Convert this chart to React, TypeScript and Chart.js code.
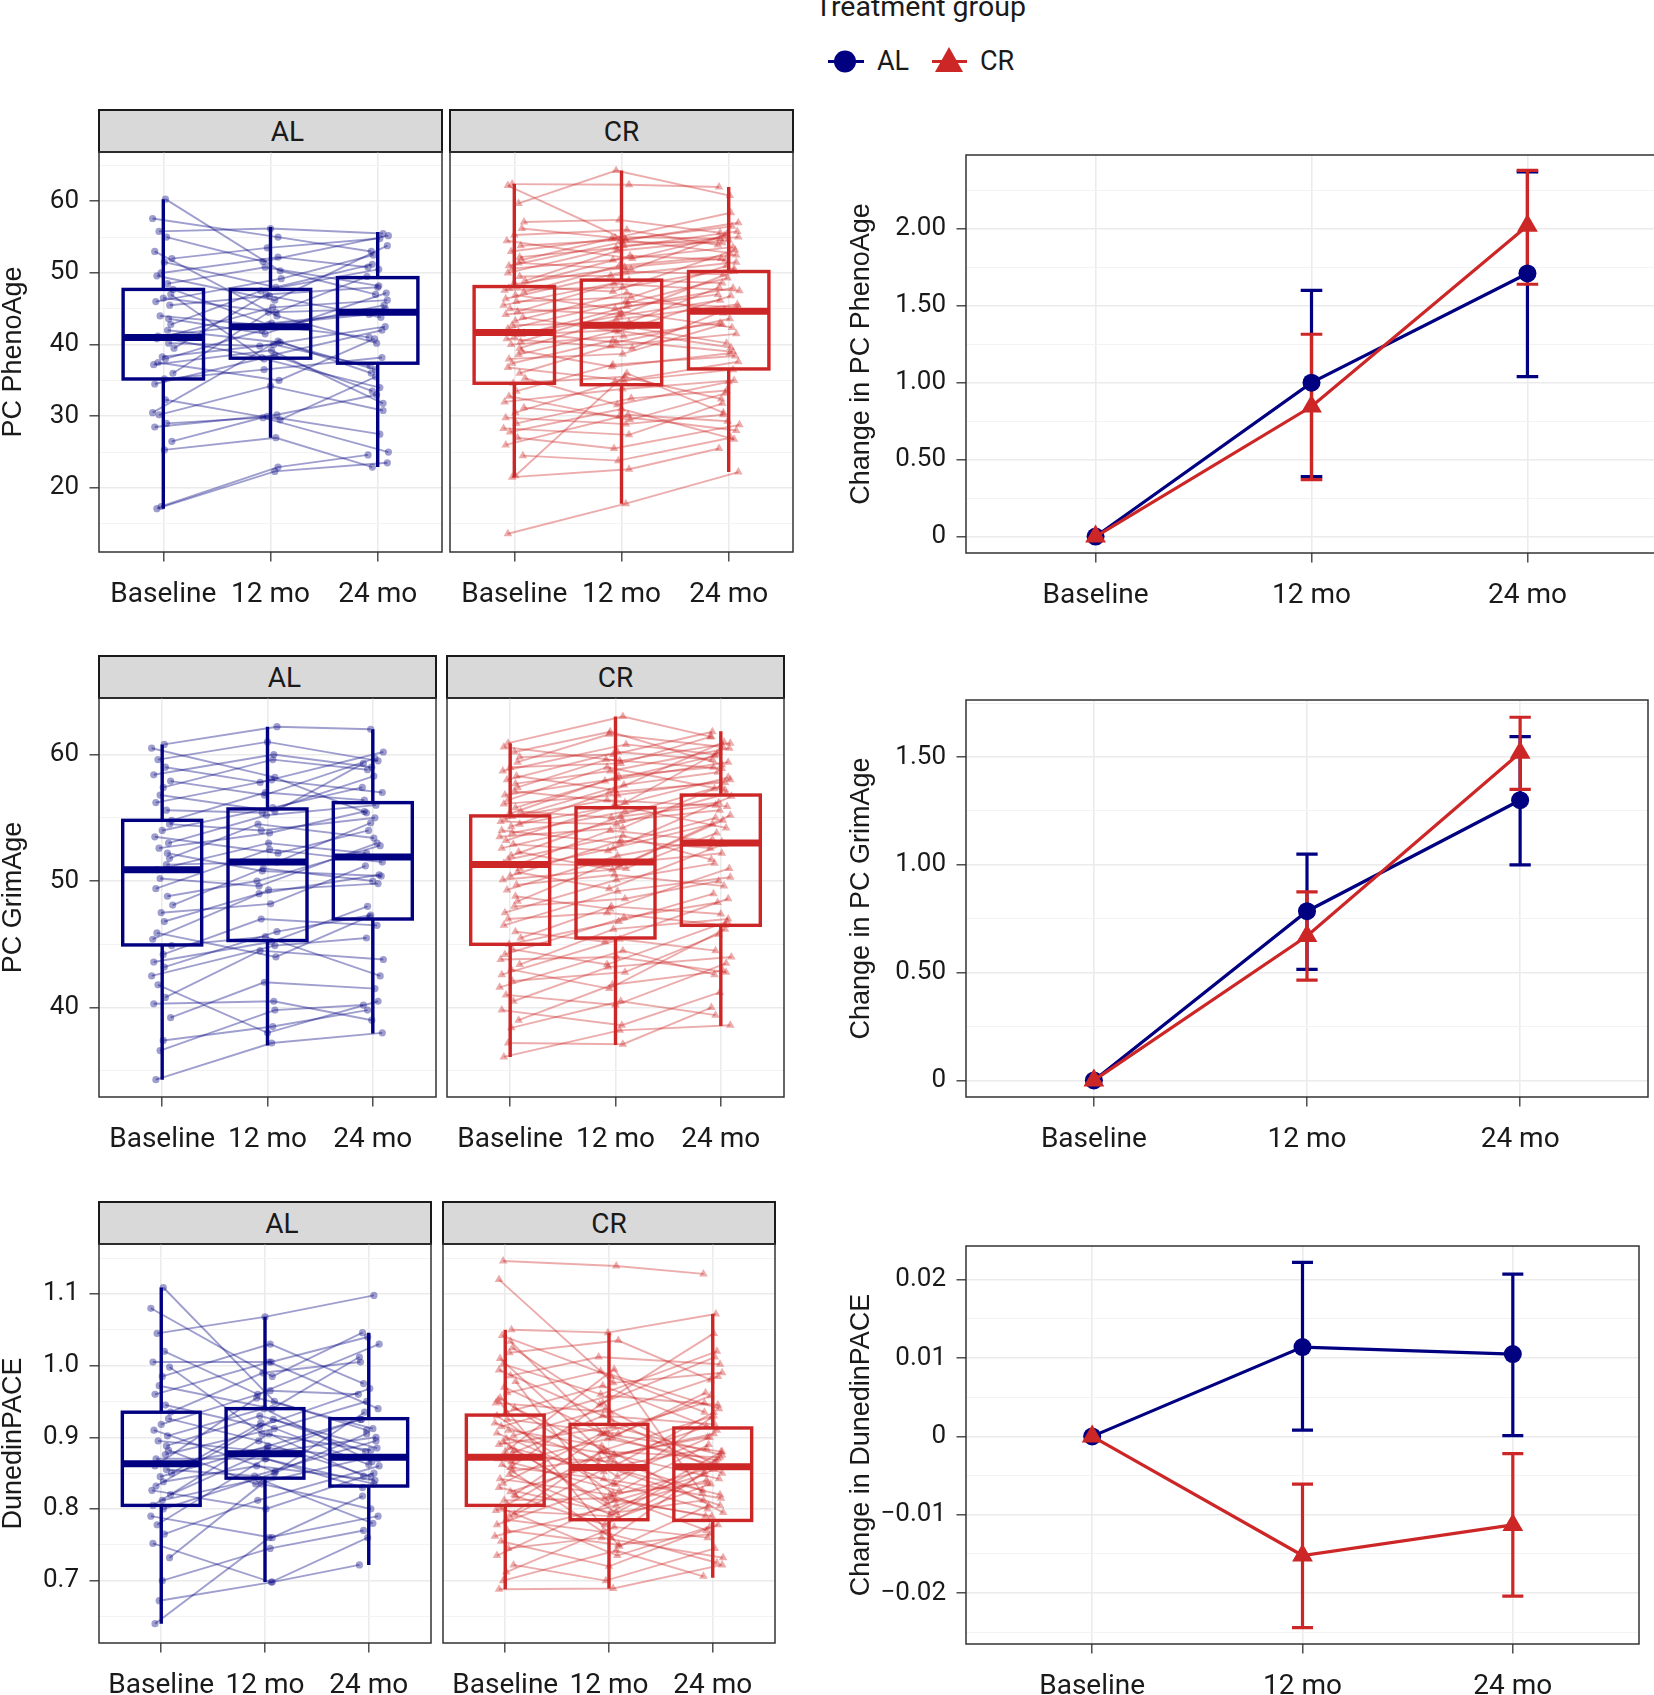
import { useEffect, useRef } from 'react';
import { Chart, registerables } from 'chart.js';

Chart.register(...registerables);

// ---------------------------------------------------------------------------
// Data
// ---------------------------------------------------------------------------

const TIMEPOINTS = ['Baseline', '12 mo', '24 mo'];

// Individual trajectories: [baseline, 12 mo, 24 mo]
const PHENO_AL = [
  [17.1, 22.3, 23.5], [17.4, 22.9, 24.6], [25.3, 27.0, 22.9], [26.5, 30.0, 27.5], [28.5, 30.2, 33.0],
  [29.0, 29.8, 25.0], [30.2, 34.2, 30.8], [30.5, 40.5, 36.0], [32.3, 29.5, 35.5], [34.5, 38.5, 33.5],
  [35.2, 36.5, 38.2], [36.0, 44.5, 45.0], [37.2, 39.2, 31.8], [37.5, 35.0, 40.8], [38.0, 42.0, 45.5],
  [38.3, 40.0, 37.0], [39.5, 47.0, 48.0], [40.2, 39.8, 42.5], [40.8, 45.2, 46.2], [41.0, 38.2, 42.0],
  [41.2, 43.0, 44.5], [42.0, 40.3, 36.5], [42.8, 47.5, 50.5], [43.6, 41.5, 47.2], [44.0, 42.6, 41.0],
  [45.5, 46.8, 43.8], [46.0, 49.2, 52.5], [46.5, 44.5, 49.5], [47.0, 38.0, 34.0], [47.7, 42.8, 44.2],
  [48.5, 50.8, 48.2], [49.6, 46.2, 53.8], [50.0, 52.2, 50.8], [51.5, 48.0, 51.2], [52.0, 53.5, 54.8],
  [53.0, 44.0, 40.2], [55.0, 51.6, 55.2], [55.8, 56.2, 55.5], [57.6, 55.0, 53.0], [60.3, 50.3, 47.0],
];

const PHENO_CR = [
  [13.6, 17.8, 22.2], [21.5, 22.6, 25.5], [21.7, 36.0, 30.5], [24.5, 23.8, 27.0], [26.0, 30.2, 29.3],
  [27.0, 25.5, 28.8], [27.8, 31.0, 26.8], [28.3, 27.4, 31.8], [29.0, 32.5, 33.6], [29.8, 28.9, 30.2],
  [30.5, 34.8, 36.5], [31.2, 30.0, 28.0], [32.0, 33.8, 35.0], [32.8, 29.5, 33.2], [33.5, 37.2, 38.4],
  [34.6, 35.5, 32.4], [35.3, 31.6, 34.8], [36.0, 39.8, 41.5], [36.8, 35.0, 37.6], [37.4, 40.6, 39.0],
  [38.0, 38.7, 42.8], [38.6, 42.4, 40.2], [39.1, 36.9, 38.8], [39.5, 43.5, 45.6], [40.0, 41.2, 43.0],
  [40.4, 44.6, 42.4], [40.8, 39.5, 44.8], [41.1, 45.3, 47.0], [41.4, 42.0, 39.6], [41.6, 44.0, 46.2],
  [41.8, 40.3, 43.6], [42.2, 46.0, 45.2], [42.7, 43.1, 48.0], [43.3, 47.2, 44.4], [43.8, 41.8, 46.8],
  [44.2, 45.8, 49.3], [44.6, 48.5, 47.5], [45.0, 44.2, 50.2], [45.5, 49.0, 48.6], [46.0, 46.6, 51.0],
  [46.4, 50.2, 49.8], [46.9, 45.0, 47.9], [47.3, 51.0, 52.5], [47.6, 48.0, 50.6], [47.9, 52.4, 51.8],
  [48.1, 47.4, 53.2], [48.4, 50.8, 52.0], [48.9, 53.1, 54.6], [49.5, 49.6, 51.5], [50.0, 53.8, 55.0],
  [50.6, 51.8, 53.6], [51.0, 54.3, 54.2], [51.4, 50.5, 55.4], [51.8, 54.8, 52.8], [52.2, 53.5, 55.8],
  [53.0, 55.0, 54.8], [53.8, 54.6, 56.5], [54.5, 52.0, 55.2], [55.3, 56.0, 53.9], [56.2, 54.9, 58.4],
  [57.1, 57.4, 55.6], [59.7, 64.3, 60.8], [62.2, 54.6, 57.0], [62.4, 62.3, 62.0],
];

const GRIM_AL = [
  [34.3, 37.2, 38.0], [36.6, 39.8, 40.2], [37.4, 38.5, 39.8], [39.2, 42.0, 41.5], [40.3, 40.5, 39.0],
  [40.8, 44.5, 43.8], [41.8, 38.0, 40.5], [42.5, 44.9, 45.5], [43.2, 46.0, 47.3], [43.6, 45.2, 48.0],
  [44.2, 47.0, 46.5], [44.9, 45.6, 42.5], [45.4, 49.3, 49.8], [45.9, 44.0, 47.2], [46.8, 49.0, 50.5],
  [47.5, 48.2, 51.2], [48.1, 51.0, 50.0], [48.8, 50.0, 52.8], [49.4, 52.5, 51.5], [50.2, 49.6, 53.0],
  [50.9, 53.0, 52.2], [51.3, 51.5, 54.6], [51.8, 54.5, 53.4], [52.2, 50.8, 50.4], [52.6, 53.8, 55.5],
  [53.0, 55.2, 56.0], [53.5, 52.2, 54.0], [54.0, 55.8, 57.4], [54.5, 54.0, 55.0], [54.8, 57.0, 56.4],
  [55.6, 55.4, 58.3], [56.2, 58.0, 57.0], [56.8, 55.5, 59.3], [57.4, 59.6, 58.8], [57.9, 56.8, 59.7],
  [58.4, 60.0, 59.0], [59.0, 57.8, 60.2], [59.6, 61.0, 59.5], [60.5, 58.2, 55.4], [60.8, 62.2, 62.0],
];

const GRIM_CR = [
  [36.1, 38.2, 38.6], [37.2, 37.1, 40.0], [38.4, 40.5, 39.4], [39.0, 41.8, 42.9], [39.8, 38.6, 41.2],
  [40.5, 43.2, 44.0], [41.0, 40.2, 43.5], [41.6, 44.5, 42.6], [42.1, 42.8, 45.8], [42.6, 45.4, 44.5],
  [43.0, 41.5, 46.2], [43.4, 46.2, 47.0], [43.8, 44.0, 42.8], [44.2, 47.1, 48.3], [44.6, 43.4, 46.8],
  [45.0, 46.8, 49.0], [45.5, 48.0, 47.4], [46.0, 45.2, 48.6], [46.5, 49.2, 50.3], [47.0, 47.5, 46.5],
  [47.5, 50.1, 51.4], [48.0, 48.6, 50.0], [48.4, 51.3, 52.2], [48.8, 47.8, 51.0], [49.3, 52.0, 53.3],
  [49.7, 50.5, 49.6], [50.1, 51.0, 53.8], [50.4, 53.2, 52.6], [50.7, 49.4, 52.9], [51.0, 52.6, 54.5],
  [51.2, 54.0, 53.1], [51.4, 51.2, 55.2], [51.7, 53.6, 51.7], [52.0, 55.1, 56.0], [52.3, 50.9, 54.8],
  [52.6, 54.8, 55.6], [52.9, 52.4, 56.7], [53.2, 56.0, 54.2], [53.5, 54.2, 57.3], [53.8, 55.5, 56.2],
  [54.0, 53.0, 55.0], [54.3, 57.0, 57.8], [54.5, 55.9, 58.2], [54.7, 54.5, 56.9], [54.9, 57.6, 58.6],
  [55.1, 56.4, 55.9], [55.3, 58.3, 59.0], [55.5, 55.0, 57.5], [55.8, 57.9, 59.4], [56.1, 56.8, 58.0],
  [56.4, 59.0, 57.2], [56.8, 58.1, 59.9], [57.1, 56.2, 60.2], [57.4, 59.6, 58.9], [57.7, 58.7, 60.5],
  [58.0, 60.2, 59.6], [58.3, 57.2, 61.0], [58.7, 60.8, 60.0], [59.0, 59.3, 61.4], [59.4, 61.6, 60.6],
  [59.8, 60.0, 61.8], [60.2, 61.8, 59.2], [60.6, 59.5, 60.9], [60.9, 63.0, 61.4],
];

const PACE_AL = [
  [0.640, 0.760, 0.790], [0.672, 0.698, 0.722], [0.700, 0.745, 0.770], [0.732, 0.835, 0.800], [0.752, 0.698, 0.760],
  [0.765, 0.812, 0.860], [0.778, 0.870, 0.835], [0.790, 0.760, 0.818], [0.800, 0.850, 0.905], [0.805, 0.905, 0.846],
  [0.812, 0.842, 0.780], [0.820, 0.878, 0.900], [0.826, 0.800, 0.850], [0.832, 0.925, 0.880], [0.838, 0.860, 0.840],
  [0.845, 0.888, 0.925], [0.850, 0.920, 0.862], [0.855, 0.846, 0.895], [0.860, 0.885, 0.870], [0.864, 0.955, 0.912],
  [0.870, 0.870, 0.830], [0.876, 0.912, 0.950], [0.882, 0.835, 0.872], [0.888, 0.930, 0.885], [0.895, 0.880, 0.925],
  [0.902, 0.940, 0.866], [0.910, 0.852, 0.935], [0.918, 0.965, 0.960], [0.926, 0.895, 0.845], [0.935, 0.990, 1.005],
  [0.945, 0.915, 0.968], [0.960, 1.005, 0.940], [0.972, 0.940, 1.012], [0.985, 1.030, 0.975], [0.998, 0.905, 0.882],
  [1.005, 1.005, 1.040], [1.020, 0.960, 1.030], [1.045, 1.068, 1.098], [1.080, 0.985, 1.046], [1.109, 0.950, 0.910],
];

const PACE_CR = [
  [0.688, 0.689, 0.722], [0.700, 0.742, 0.706], [0.712, 0.775, 0.760], [0.722, 0.700, 0.745], [0.735, 0.812, 0.790],
  [0.745, 0.760, 0.732], [0.755, 0.720, 0.778], [0.762, 0.805, 0.840], [0.770, 0.750, 0.765], [0.778, 0.836, 0.800],
  [0.785, 0.768, 0.725], [0.792, 0.858, 0.820], [0.798, 0.790, 0.870], [0.802, 0.735, 0.775], [0.806, 0.880, 0.842],
  [0.812, 0.815, 0.790], [0.818, 0.778, 0.855], [0.824, 0.862, 0.805], [0.830, 0.795, 0.880], [0.836, 0.905, 0.860],
  [0.842, 0.820, 0.770], [0.848, 0.788, 0.835], [0.853, 0.870, 0.905], [0.858, 0.842, 0.815], [0.862, 0.760, 0.852],
  [0.866, 0.898, 0.868], [0.870, 0.825, 0.890], [0.874, 0.866, 0.826], [0.878, 0.930, 0.918], [0.882, 0.808, 0.848],
  [0.886, 0.852, 0.935], [0.890, 0.915, 0.875], [0.894, 0.795, 0.812], [0.898, 0.876, 0.900], [0.902, 0.940, 0.862],
  [0.906, 0.834, 0.928], [0.910, 0.888, 0.795], [0.915, 0.958, 0.945], [0.920, 0.860, 0.884], [0.925, 0.905, 0.958],
  [0.930, 0.822, 0.836], [0.935, 0.972, 0.910], [0.941, 0.880, 0.872], [0.948, 0.935, 0.985], [0.955, 0.845, 0.900],
  [0.962, 0.992, 0.940], [0.970, 0.900, 0.962], [0.978, 0.815, 0.858], [0.986, 1.012, 1.002], [0.994, 0.925, 0.850],
  [1.002, 0.960, 1.020], [1.010, 0.870, 0.915], [1.018, 1.035, 0.980], [1.025, 0.945, 1.045], [1.034, 0.905, 0.880],
  [1.042, 0.985, 0.935], [1.050, 1.046, 1.072], [0.952, 0.748, 0.805], [0.880, 0.995, 0.822], [0.860, 0.948, 1.012],
  [0.820, 0.908, 0.948], [0.790, 0.882, 0.930], [1.120, 0.976, 0.990], [1.146, 1.139, 1.128],
];

// Boxplot summaries per timepoint: [lower whisker, Q1, median, Q3, upper whisker]
const PHENO_AL_BOX = [[17.1, 35.2, 41.0, 47.7, 60.3], [27.0, 38.1, 42.5, 47.7, 56.4], [22.9, 37.4, 44.5, 49.35, 55.7]];
const PHENO_CR_BOX = [[21.5, 34.6, 41.7, 48.1, 62.4], [17.8, 34.4, 42.7, 49.0, 64.3], [22.2, 36.6, 44.65, 50.2, 62.0]];
const GRIM_AL_BOX = [[34.3, 44.95, 50.9, 54.8, 60.8], [37.0, 45.3, 51.5, 55.7, 62.2], [37.95, 47.0, 51.9, 56.2, 62.0]];
const GRIM_CR_BOX = [[36.1, 45.0, 51.3, 55.15, 60.9], [37.05, 45.5, 51.5, 55.8, 63.0], [38.55, 46.5, 53.0, 56.8, 61.85]];
const PACE_AL_BOX = [[0.640, 0.805, 0.863, 0.935, 1.109], [0.698, 0.843, 0.877, 0.940, 1.068], [0.722, 0.832, 0.872, 0.926, 1.046]];
const PACE_CR_BOX = [[0.688, 0.805, 0.872, 0.931, 1.050], [0.689, 0.785, 0.858, 0.918, 1.046], [0.704, 0.784, 0.859, 0.913, 1.072]];

// Mean change from baseline with confidence interval
const PHENO_AL_MEAN = [0, 1.0, 1.71];
const PHENO_AL_LO = [null, 0.39, 1.04];
const PHENO_AL_HI = [null, 1.6, 2.37];
const PHENO_CR_MEAN = [0, 0.845, 2.02];
const PHENO_CR_LO = [null, 0.37, 1.64];
const PHENO_CR_HI = [null, 1.315, 2.38];

const GRIM_AL_MEAN = [0, 0.785, 1.3];
const GRIM_AL_LO = [null, 0.515, 1.0];
const GRIM_AL_HI = [null, 1.05, 1.595];
const GRIM_CR_MEAN = [0, 0.67, 1.52];
const GRIM_CR_LO = [null, 0.465, 1.35];
const GRIM_CR_HI = [null, 0.875, 1.685];

const PACE_AL_MEAN = [0, 0.0114, 0.0105];
const PACE_AL_LO = [null, 0.0008, 0.0001];
const PACE_AL_HI = [null, 0.0222, 0.0207];
const PACE_CR_MEAN = [0, -0.0152, -0.0113];
const PACE_CR_LO = [null, -0.0244, -0.0204];
const PACE_CR_HI = [null, -0.0061, -0.0022];

// Axis ticks (major = labelled, minor = grid only)
const PHENO_TICKS = [20, 30, 40, 50, 60];
const PHENO_MINOR = [15, 25, 35, 45, 55, 65];
const GRIM_TICKS = [40, 50, 60];
const GRIM_MINOR = [35, 45, 55];
const PACE_TICKS = [0.7, 0.8, 0.9, 1.0, 1.1];
const PACE_MINOR = [0.65, 0.75, 0.85, 0.95, 1.05, 1.15];
const D_PHENO_TICKS = [0, 0.5, 1.0, 1.5, 2.0];
const D_PHENO_MINOR = [0.25, 0.75, 1.25, 1.75, 2.25];
const D_GRIM_TICKS = [0, 0.5, 1.0, 1.5];
const D_GRIM_MINOR = [0.25, 0.75, 1.25, 1.75];
const D_PACE_TICKS = [-0.02, -0.01, 0, 0.01, 0.02];
const D_PACE_MINOR = [-0.025, -0.015, -0.005, 0.005, 0.015];

// hand-picked horizontal jitter for individual points (category units)
const JITTER = [
  -0.06, 0.04, 0.09, -0.02, 0.07, -0.09, 0.01, 0.05, -0.05, 0.08, -0.03, 0.02, -0.08, 0.06, -0.01, 0.03,
  -0.07, 0.1, -0.04, 0.0, 0.05, -0.1, 0.07, -0.06, 0.02, 0.09, -0.02, -0.08, 0.04, -0.05, 0.01,
];

// ---------------------------------------------------------------------------
// Styling
// ---------------------------------------------------------------------------

const NAVY = '#000080';
const RED = '#CD2626';
const NAVY_FADE = 'rgba(0, 0, 128, 0.38)';
const RED_FADE = 'rgba(205, 38, 38, 0.38)';
const GRID = '#EBEBEB';
const GRID_MINOR = '#F3F3F3';
const AXIS = '#333333';
const TEXT = '#1a1a1a';
const TICK_FONT = { family: 'Roboto', size: 26 };
const XTICK_FONT = { family: 'Roboto', size: 28 };
const TITLE_FONT = { family: "'Liberation Sans', Arial", size: 27, lineHeight: 1 };
const PAD = 2; // canvas room above / right of the panel frame

const near = (list: number[], v: number) => list.some((m) => Math.abs(m - v) < 1e-9);

function yScale(o: {
  min: number; max: number; major: number[]; minor: number[];
  width: number; fmt?: (v: number) => string; title?: string;
}) {
  const labels = !!o.fmt;
  return {
    type: 'linear',
    min: o.min,
    max: o.max,
    afterBuildTicks: (s: any) => {
      s.ticks = [...o.major, ...o.minor]
        .filter((v) => v >= o.min && v <= o.max)
        .sort((a, b) => a - b)
        .map((v) => ({ value: v }));
    },
    afterFit: (s: any) => {
      s.width = o.width;
      s.paddingTop = 0;
      s.paddingBottom = 0;
    },
    ticks: {
      display: labels,
      autoSkip: false,
      font: TICK_FONT,
      color: TEXT,
      padding: 10.5,
      callback: (v: number) => (labels && near(o.major, v) ? o.fmt!(v) : ''),
    },
    grid: {
      color: (c: any) => (near(o.major, c.tick?.value) ? GRID : GRID_MINOR),
      lineWidth: (c: any) => (near(o.major, c.tick?.value) ? 1.6 : 1),
      drawTicks: labels,
      tickLength: 9.5,
      tickWidth: 1.3,
      tickColor: (c: any) => (near(o.major, c.tick?.value) ? AXIS : 'rgba(0,0,0,0)'),
    },
    border: { display: false },
    title: o.title
      ? { display: true, text: o.title, font: TITLE_FONT, color: TEXT, padding: 0 }
      : { display: false },
  };
}

function xScale(height: number) {
  return {
    type: 'linear',
    min: 0.4,
    max: 3.6,
    afterBuildTicks: (s: any) => {
      s.ticks = TIMEPOINTS.map((_, i) => ({ value: i + 1 }));
    },
    afterFit: (s: any) => {
      s.height = height;
      s.paddingLeft = 0;
      s.paddingRight = 0;
    },
    ticks: {
      autoSkip: false,
      maxRotation: 0,
      font: XTICK_FONT,
      color: TEXT,
      padding: 17,
      callback: (v: number) => TIMEPOINTS[Math.round(v) - 1] ?? '',
    },
    grid: { color: GRID, lineWidth: 1.6, tickLength: 9.5, tickWidth: 1.3, tickColor: AXIS },
    border: { display: false },
  };
}

const framePlugin = {
  id: 'frame',
  afterDraw(chart: any) {
    const { ctx, chartArea: a } = chart;
    ctx.save();
    ctx.strokeStyle = AXIS;
    ctx.lineWidth = 1.5;
    ctx.strokeRect(a.left, a.top, a.right - a.left, a.bottom - a.top);
    ctx.restore();
  },
};

function boxPlugin(stats: number[][], color: string) {
  return {
    id: 'boxes',
    afterDatasetsDraw(chart: any) {
      const { ctx, scales: { x, y } } = chart;
      ctx.save();
      ctx.strokeStyle = color;
      ctx.lineCap = 'butt';
      stats.forEach(([lo, q1, med, q3, hi], i) => {
        const cx = x.getPixelForValue(i + 1);
        const half = x.getPixelForValue(i + 1 + 0.375) - cx;
        ctx.lineWidth = 3.4;
        ctx.beginPath();
        ctx.moveTo(cx, y.getPixelForValue(hi));
        ctx.lineTo(cx, y.getPixelForValue(q3));
        ctx.moveTo(cx, y.getPixelForValue(q1));
        ctx.lineTo(cx, y.getPixelForValue(lo));
        ctx.stroke();
        const top = y.getPixelForValue(q3);
        ctx.strokeRect(cx - half, top, half * 2, y.getPixelForValue(q1) - top);
        ctx.lineWidth = 7;
        ctx.beginPath();
        ctx.moveTo(cx - half, y.getPixelForValue(med));
        ctx.lineTo(cx + half, y.getPixelForValue(med));
        ctx.stroke();
      });
      ctx.restore();
    },
  };
}

function errorBarPlugin(groups: { lo: (number | null)[]; hi: (number | null)[]; color: string }[]) {
  return {
    id: 'errorBars',
    beforeDatasetsDraw(chart: any) {
      const { ctx, scales: { x, y } } = chart;
      ctx.save();
      ctx.lineWidth = 3.2;
      groups.forEach((g) => {
        ctx.strokeStyle = g.color;
        g.lo.forEach((lo, i) => {
          const hi = g.hi[i];
          if (lo == null || hi == null) return;
          const cx = x.getPixelForValue(i + 1);
          const w = x.getPixelForValue(i + 1.05) - cx;
          const yl = y.getPixelForValue(lo);
          const yh = y.getPixelForValue(hi);
          ctx.beginPath();
          ctx.moveTo(cx, yl);
          ctx.lineTo(cx, yh);
          ctx.moveTo(cx - w, yl);
          ctx.lineTo(cx + w, yl);
          ctx.moveTo(cx - w, yh);
          ctx.lineTo(cx + w, yh);
          ctx.stroke();
        });
      });
      ctx.restore();
    },
  };
}

function trajectories(rows: number[][], fade: string, style: string, radius: number) {
  return rows.map((r, i) => ({
    data: r.map((v, t) => ({ x: t + 1 + JITTER[(i * 3 + t) % JITTER.length], y: v })),
    borderColor: fade,
    borderWidth: 1.9,
    pointStyle: style,
    pointRadius: radius,
    pointBackgroundColor: fade,
    pointBorderWidth: 0,
  }));
}

function meanLines(al: number[], cr: number[]) {
  return [
    {
      data: cr.map((v, i) => ({ x: i + 1, y: v })),
      borderColor: RED,
      borderWidth: 3.2,
      pointStyle: 'triangle',
      pointRadius: 12,
      pointBackgroundColor: RED,
      pointBorderWidth: 0,
      order: 0,
    },
    {
      data: al.map((v, i) => ({ x: i + 1, y: v })),
      borderColor: NAVY,
      borderWidth: 3.2,
      pointStyle: 'circle',
      pointRadius: 9,
      pointBackgroundColor: NAVY,
      pointBorderWidth: 0,
      order: 1,
    },
  ];
}

function baseOptions(y: any, xHeight: number) {
  return {
    animation: false,
    responsive: true,
    maintainAspectRatio: false,
    events: [],
    layout: { autoPadding: false, padding: { top: PAD, right: PAD, left: 0, bottom: 0 } },
    elements: { line: { tension: 0 } },
    plugins: { legend: { display: false }, tooltip: { enabled: false } },
    scales: { x: xScale(xHeight), y },
  };
}

// ---------------------------------------------------------------------------
// Components
// ---------------------------------------------------------------------------

type Rect = { left: number; top: number; right: number; bottom: number };

function ChartBox({ area, axisW, axisH, make }: { area: Rect; axisW: number; axisH: number; make: () => any }) {
  const ref = useRef<HTMLCanvasElement>(null);
  useEffect(() => {
    if (!ref.current) return;
    const chart = new Chart(ref.current, make());
    return () => chart.destroy();
  }, []);
  const style = {
    position: 'absolute' as const,
    left: area.left - axisW,
    top: area.top - PAD,
    width: area.right - area.left + axisW + PAD,
    height: area.bottom - area.top + PAD + axisH,
  };
  return (
    <div style={style}>
      <canvas ref={ref} />
    </div>
  );
}

function Strip({ area, label, shift = 0 }: { area: Rect; label: string; shift?: number }) {
  return (
    <div
      style={{
        position: 'absolute',
        left: area.left - 1,
        top: area.top - 43,
        width: area.right - area.left + 2,
        height: 44,
        boxSizing: 'border-box',
        background: '#D9D9D9',
        border: '2px solid #1a1a1a',
        paddingLeft: shift * 2,
        display: 'flex',
        alignItems: 'center',
        justifyContent: 'center',
        font: '28px Roboto',
        color: TEXT,
      }}
    >
      {label}
    </div>
  );
}

interface RowSpec {
  al: Rect;
  cr: Rect;
  change: Rect;
  axisH: number;
  changeH: number;
  yMin: number;
  yMax: number;
  major: number[];
  minor: number[];
  fmt: (v: number) => string;
  title: string;
  alRows: number[][];
  crRows: number[][];
  alBox: number[][];
  crBox: number[][];
  dMin: number;
  dMax: number;
  dMajor: number[];
  dMinor: number[];
  dFmt: (v: number) => string;
  dTitle: string;
  alMean: number[];
  crMean: number[];
  alLo: (number | null)[];
  alHi: (number | null)[];
  crLo: (number | null)[];
  crHi: (number | null)[];
}

const CHANGE_LEFT = 848;
const INNER_AXIS = 20;

function Row({ r }: { r: RowSpec }) {
  const yLeft = () =>
    yScale({ min: r.yMin, max: r.yMax, major: r.major, minor: r.minor, width: r.al.left, fmt: r.fmt, title: r.title });
  const yInner = () => yScale({ min: r.yMin, max: r.yMax, major: r.major, minor: r.minor, width: INNER_AXIS });
  return (
    <>
      <Strip area={r.al} label="AL" shift={17} />
      <Strip area={r.cr} label="CR" />
      <ChartBox
        area={r.al}
        axisW={r.al.left}
        axisH={r.axisH}
        make={() => ({
          type: 'line',
          data: { datasets: trajectories(r.alRows, NAVY_FADE, 'circle', 3.6) },
          options: baseOptions(yLeft(), r.axisH),
          plugins: [boxPlugin(r.alBox, NAVY), framePlugin],
        })}
      />
      <ChartBox
        area={r.cr}
        axisW={INNER_AXIS}
        axisH={r.axisH}
        make={() => ({
          type: 'line',
          data: { datasets: trajectories(r.crRows, RED_FADE, 'triangle', 5) },
          options: baseOptions(yInner(), r.axisH),
          plugins: [boxPlugin(r.crBox, RED), framePlugin],
        })}
      />
      <ChartBox
        area={r.change}
        axisW={r.change.left - CHANGE_LEFT}
        axisH={r.changeH}
        make={() => ({
          type: 'line',
          data: { datasets: meanLines(r.alMean, r.crMean) },
          options: baseOptions(
            yScale({
              min: r.dMin, max: r.dMax, major: r.dMajor, minor: r.dMinor,
              width: r.change.left - CHANGE_LEFT, fmt: r.dFmt, title: r.dTitle,
            }),
            r.changeH,
          ),
          plugins: [
            errorBarPlugin([
              { lo: r.alLo, hi: r.alHi, color: NAVY },
              { lo: r.crLo, hi: r.crHi, color: RED },
            ]),
            framePlugin,
          ],
        })}
      />
    </>
  );
}

const fmtInt = (v: number) => String(Math.round(v));
const fmtOne = (v: number) => v.toFixed(1);
const fmtTwo = (v: number) => (Math.abs(v) < 1e-12 ? '0' : v.toFixed(2));
const fmtSigned = (v: number) =>
  Math.abs(v) < 1e-12 ? '0' : v < 0 ? '\u2212' + Math.abs(v).toFixed(2) : v.toFixed(2);

const ROWS: RowSpec[] = [
  {
    al: { left: 99, top: 152, right: 442, bottom: 552 },
    cr: { left: 450, top: 152, right: 793, bottom: 552 },
    change: { left: 966, top: 155, right: 1657, bottom: 553 },
    axisH: 62, changeH: 61,
    yMin: 11.05, yMax: 66.88, major: PHENO_TICKS, minor: PHENO_MINOR, fmt: fmtInt, title: 'PC PhenoAge',
    alRows: PHENO_AL, crRows: PHENO_CR, alBox: PHENO_AL_BOX, crBox: PHENO_CR_BOX,
    dMin: -0.107, dMax: 2.48, dMajor: D_PHENO_TICKS, dMinor: D_PHENO_MINOR, dFmt: fmtTwo,
    dTitle: 'Change in PC PhenoAge',
    alMean: PHENO_AL_MEAN, crMean: PHENO_CR_MEAN,
    alLo: PHENO_AL_LO, alHi: PHENO_AL_HI, crLo: PHENO_CR_LO, crHi: PHENO_CR_HI,
  },
  {
    al: { left: 99, top: 698, right: 436, bottom: 1097 },
    cr: { left: 447, top: 698, right: 784, bottom: 1097 },
    change: { left: 966, top: 700, right: 1648, bottom: 1097 },
    axisH: 62, changeH: 62,
    yMin: 32.93, yMax: 64.47, major: GRIM_TICKS, minor: GRIM_MINOR, fmt: fmtInt, title: 'PC GrimAge',
    alRows: GRIM_AL, crRows: GRIM_CR, alBox: GRIM_AL_BOX, crBox: GRIM_CR_BOX,
    dMin: -0.077, dMax: 1.765, dMajor: D_GRIM_TICKS, dMinor: D_GRIM_MINOR, dFmt: fmtTwo,
    dTitle: 'Change in PC GrimAge',
    alMean: GRIM_AL_MEAN, crMean: GRIM_CR_MEAN,
    alLo: GRIM_AL_LO, alHi: GRIM_AL_HI, crLo: GRIM_CR_LO, crHi: GRIM_CR_HI,
  },
  {
    al: { left: 99, top: 1244, right: 431, bottom: 1643 },
    cr: { left: 443, top: 1244, right: 775, bottom: 1643 },
    change: { left: 966, top: 1246, right: 1639, bottom: 1644 },
    axisH: 52, changeH: 51,
    yMin: 0.613, yMax: 1.1697, major: PACE_TICKS, minor: PACE_MINOR, fmt: fmtOne, title: 'DunedinPACE',
    alRows: PACE_AL, crRows: PACE_CR, alBox: PACE_AL_BOX, crBox: PACE_CR_BOX,
    dMin: -0.0265, dMax: 0.0243, dMajor: D_PACE_TICKS, dMinor: D_PACE_MINOR, dFmt: fmtSigned,
    dTitle: 'Change in DunedinPACE',
    alMean: PACE_AL_MEAN, crMean: PACE_CR_MEAN,
    alLo: PACE_AL_LO, alHi: PACE_AL_HI, crLo: PACE_CR_LO, crHi: PACE_CR_HI,
  },
];

function Legend() {
  return (
    <>
      <div style={{ position: 'absolute', left: 815, top: -9, font: '28.5px Roboto', lineHeight: '32px', color: TEXT, whiteSpace: 'nowrap' }}>
        Treatment group
      </div>
      <svg style={{ position: 'absolute', left: 826, top: 44, overflow: 'visible' }} width={40} height={34}>
        <line x1={2} y1={17.5} x2={38} y2={17.5} stroke={NAVY} strokeWidth={3.2} />
        <circle cx={19} cy={17.5} r={11} fill={NAVY} />
      </svg>
      <div style={{ position: 'absolute', left: 877, top: 48, font: '27px Roboto', lineHeight: '27px', color: TEXT }}>AL</div>
      <svg style={{ position: 'absolute', left: 930, top: 44, overflow: 'visible' }} width={40} height={34}>
        <line x1={2} y1={17.5} x2={37} y2={17.5} stroke={RED} strokeWidth={3.2} />
        <polygon points="19,3 33,28 5,28" fill={RED} />
      </svg>
      <div style={{ position: 'absolute', left: 980, top: 48, font: '27px Roboto', lineHeight: '27px', color: TEXT }}>CR</div>
    </>
  );
}

export default function App() {
  return (
    <div
      style={{
        position: 'absolute',
        left: 0,
        top: 0,
        width: 1654,
        height: 1695,
        overflow: 'hidden',
        background: '#ffffff',
        fontFamily: 'Roboto, sans-serif',
      }}
    >
      <Legend />
      {ROWS.map((r, i) => (
        <Row key={i} r={r} />
      ))}
    </div>
  );
}
